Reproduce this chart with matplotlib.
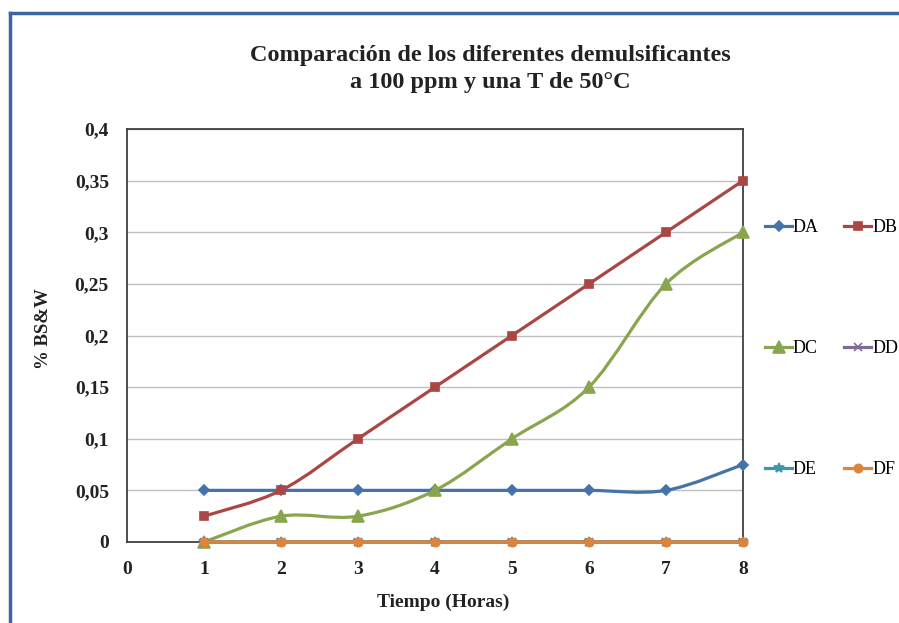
import numpy as np
import matplotlib
matplotlib.use("Agg")
import matplotlib.pyplot as plt
from matplotlib.path import Path
from matplotlib.patches import PathPatch
from matplotlib.lines import Line2D

# ---- data ----
horas = [1, 2, 3, 4, 5, 6, 7, 8]
DA = [0.05, 0.05, 0.05, 0.05, 0.05, 0.05, 0.05, 0.075]
DB = [0.025, 0.05, 0.10, 0.15, 0.20, 0.25, 0.30, 0.35]
DC = [0.0, 0.025, 0.025, 0.05, 0.10, 0.15, 0.25, 0.30]
DD = [0, 0, 0, 0, 0, 0, 0, 0]
DE = [0, 0, 0, 0, 0, 0, 0, 0]
DF = [0, 0, 0, 0, 0, 0, 0, 0]
series_names = ["DA", "DB", "DC", "DD", "DE", "DF"]
y_ticks = [0, 0.05, 0.1, 0.15, 0.2, 0.25, 0.3, 0.35, 0.4]
y_ticklabels = ["0", "0,05", "0,1", "0,15", "0,2", "0,25", "0,3", "0,35", "0,4"]
x_ticks = [0, 1, 2, 3, 4, 5, 6, 7, 8]
title = "Comparación de los diferentes demulsificantes\na 100 ppm y una T de 50°C"
xlabel = "Tiempo (Horas)"
ylabel = "% BS&W"

styles = {
    "DA": dict(color="#4572A7", marker="D", ms=5),
    "DB": dict(color="#AA4643", marker="s", ms=6),
    "DC": dict(color="#89A54E", marker="^", ms=8),
    "DD": dict(color="#80699B", marker="x", ms=6),
    "DE": dict(color="#3D96AE", marker="*", ms=7),
    "DF": dict(color="#DB843D", marker="o", ms=6),
}

def smooth_path(x, y):
    """Excel-like smoothed line: Catmull-Rom converted to cubic Bezier."""
    x = np.asarray(x, float)
    y = np.asarray(y, float)
    pts = np.column_stack([x, y])
    verts = [pts[0]]
    codes = [Path.MOVETO]
    n = len(pts)
    for i in range(n - 1):
        p0 = pts[i - 1] if i > 0 else pts[i]
        p1 = pts[i]
        p2 = pts[i + 1]
        p3 = pts[i + 2] if i + 2 < n else pts[i + 1]
        c1 = p1 + (p2 - p0) / 6.0
        c2 = p2 - (p3 - p1) / 6.0
        verts += [c1, c2, p2]
        codes += [Path.CURVE4] * 3
    return Path(verts, codes)

serif = ["Liberation Serif", "DejaVu Serif"]
plt.rcParams["font.family"] = serif

fig = plt.figure(figsize=(8.99, 6.23), dpi=100)
fig.patch.set_facecolor("white")

ax = fig.add_axes([127 / 899, 1 - 542 / 623, (743 - 127) / 899, (542 - 129) / 623])
ax.set_xlim(0, 8)
ax.set_ylim(0, 0.4)
ax.set_yticks(y_ticks)
ax.set_yticklabels(y_ticklabels)
ax.set_xticks(x_ticks)
ax.tick_params(length=0, labelsize=14, colors="#222222")
ax.tick_params(axis="y", pad=13)
ax.tick_params(axis="x", pad=14)
for lab in ax.get_xticklabels() + ax.get_yticklabels():
    lab.set_fontweight("bold")
ax.grid(axis="y", color="#bfbfbf", linewidth=1.0)
ax.set_axisbelow(True)
for sp in ax.spines.values():
    sp.set_color("#404040")
    sp.set_linewidth(1.3)

data = {"DA": DA, "DB": DB, "DC": DC, "DD": DD, "DE": DE, "DF": DF}
handles = {}
for k, name in enumerate(series_names):
    st = styles[name]
    patch = PathPatch(smooth_path(horas, data[name]), facecolor="none",
                      edgecolor=st["color"], linewidth=2.3, zorder=3 + k,
                      transform=ax.transData, clip_on=False, capstyle="round")
    ax.add_patch(patch)
    ax.plot(horas, data[name], linestyle="none", marker=st["marker"],
            markersize=st["ms"], color=st["color"], markeredgecolor=st["color"],
            markeredgewidth=1.2, zorder=3 + k + 0.5, clip_on=False)
    handles[name] = Line2D([], [], color=st["color"], linewidth=2.3,
                           marker=st["marker"], markersize=st["ms"],
                           markeredgewidth=1.2, label=name)

# row-major legend order (DA DB / DC DD / DE DF)
leg_order = ["DA", "DC", "DE", "DB", "DD", "DF"]
fig.legend(handles=[handles[n] for n in leg_order], labels=leg_order, ncol=2,
           loc="upper left", bbox_to_anchor=(765 / 899, 1 - 219.5 / 623),
           frameon=False, labelspacing=5.75, handlelength=1.5,
           handletextpad=0.05, columnspacing=1.4, borderpad=0,
           borderaxespad=0, prop={"family": serif, "size": 13})

fig.text(490 / 899, 1 - 69 / 623, title, ha="center", va="center",
         fontsize=17.5, fontweight="bold", linespacing=1.42, color="#222222")
fig.text(443 / 899, 1 - 602 / 623, xlabel, ha="center", va="center",
         fontsize=14, fontweight="bold", color="#222222")
fig.text(44 / 899, 1 - 329 / 623, ylabel, ha="center", va="center",
         rotation=90, fontsize=13.5, fontweight="bold", color="#222222")

# blue frame of the chart area
fig.add_artist(Line2D([10 / 899, 10 / 899], [0, 1 - 13 / 623],
                      transform=fig.transFigure, color="#3c66a3", linewidth=2.5))
fig.add_artist(Line2D([10 / 899, 1], [1 - 13 / 623, 1 - 13 / 623],
                      transform=fig.transFigure, color="#3c66a3", linewidth=2.5))

fig.savefig("out.png", dpi=100, facecolor="white")
